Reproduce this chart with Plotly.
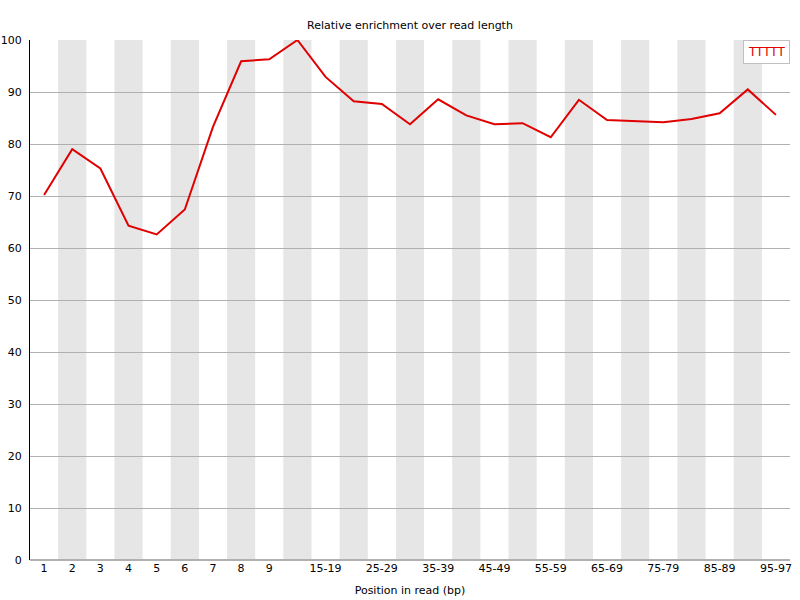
import plotly.graph_objects as go

categories = ["1", "2", "3", "4", "5", "6", "7", "8", "9", "10-14", "15-19", "20-24",
              "25-29", "30-34", "35-39", "40-44", "45-49", "50-54", "55-59", "60-64",
              "65-69", "70-74", "75-79", "80-84", "85-89", "90-94", "95-97"]
series_name = "TTTTT"
values = [70.2, 79.0, 75.3, 64.3, 62.6, 67.4, 83.3, 95.9, 96.3, 100.0, 92.9, 88.2,
          87.7, 83.8, 88.6, 85.5, 83.8, 84.0, 81.3, 88.5, 84.6, 84.4, 84.2, 84.8,
          85.9, 90.5, 85.6]
shown_labels = ["1", "2", "3", "4", "5", "6", "7", "8", "9", "15-19", "25-29", "35-39",
                "45-49", "55-59", "65-69", "75-79", "85-89", "95-97"]

xs = list(range(len(categories)))
tickvals = [categories.index(l) for l in shown_labels]

fig = go.Figure()
fig.add_trace(go.Scatter(x=xs, y=values, mode="lines", name=series_name,
                         line=dict(color="#e00000", width=2), showlegend=False))

shapes = []
for i in xs:
    if i % 2 == 1 and i < len(categories) - 1:
        shapes.append(dict(type="rect", xref="x", yref="paper", x0=i - 0.5, x1=i + 0.5,
                           y0=0, y1=1, fillcolor="#e6e6e6", line=dict(width=0), layer="below"))

fig.update_layout(
    width=800, height=600,
    margin=dict(l=30, r=10, t=40, b=40, autoexpand=False),
    paper_bgcolor="white", plot_bgcolor="white",
    font=dict(family="DejaVu Sans", size=11, color="black"),
    title=dict(text="Relative enrichment over read length", x=0.5125, xanchor="center",
               y=0.958, yanchor="middle", font=dict(size=11), automargin=False),
    shapes=shapes,
    annotations=[dict(text=series_name, xref="paper", yref="paper", x=1, y=1,
                      xanchor="right", yanchor="top", showarrow=False,
                      font=dict(color="#e00000", size=12, family="DejaVu Sans"),
                      bgcolor="white", bordercolor="#c0c0c0", borderwidth=1, borderpad=4)],
)
fig.update_xaxes(range=[-0.5, len(categories) - 0.5], tickmode="array", tickvals=tickvals,
                 ticktext=shown_labels, showgrid=False, zeroline=False, showline=False,
                 ticks="", automargin=False,
                 title=dict(text="Position in read (bp)", standoff=12, font=dict(size=11)))
fig.update_yaxes(range=[0, 100], dtick=10, showgrid=True, gridcolor="#b0b0b0", gridwidth=1,
                 zeroline=True, zerolinecolor="#b0b0b0", showline=True, linecolor="black",
                 linewidth=1, ticks="", ticklabelstandoff=5, automargin=False)

fig.write_html("out.html", config={"displayModeBar": False},
               post_script="document.body.style.margin='0';document.body.style.overflow='hidden';")
